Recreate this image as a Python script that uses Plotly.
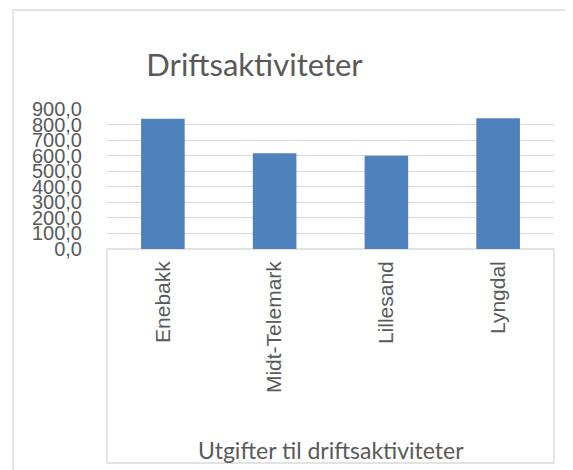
import plotly.graph_objects as go

categories = ["Enebakk", "Midt-Telemark", "Lillesand", "Lyngdal"]
values = [838, 615, 599, 841]
y_ticks = [0, 100, 200, 300, 400, 500, 600, 700, 800, 900]

OFF = 8  # default page body margin
W, H = 573 - OFF, 470 - OFF
L, R = 107 - OFF, 554 - OFF
T, B = 109 - OFF, 249 - OFF
pw, ph = R - L, B - T

def px_x(x):
    return (x - OFF - L) / pw

def px_y(y):
    return (B - (y - OFF)) / ph

fig = go.Figure(go.Bar(
    x=categories, y=values,
    marker=dict(color="#4F81BD", line=dict(width=0)),
    width=0.39,
))

fig.update_layout(
    width=W, height=H,
    margin=dict(l=L, r=W - R, t=T, b=H - B),
    paper_bgcolor="white", plot_bgcolor="white",
    separators=", ",
    showlegend=False,
    title=dict(text="Driftsaktiviteter", font=dict(family="Lato", size=31, color="#595959"),
               xref="container", yref="container", x=(254.5 - OFF) / W, y=1 - (65 - OFF) / H,
               xanchor="center", yanchor="middle"),
    xaxis=dict(showgrid=False, showline=False, ticks="", tickangle=-90,
               tickfont=dict(family="Liberation Sans", size=21, color="#595959"),
               ticklabelstandoff=7),
    yaxis=dict(range=[0, 900], tickvals=y_ticks, tickformat=".1f",
               showgrid=True, gridcolor="#D9D9D9", gridwidth=1.3,
               zeroline=False, showline=False, ticks="",
               tickfont=dict(family="Liberation Sans", size=20, color="#595959"),
               ticklabelstandoff=24),
    annotations=[dict(text="Utgifter til driftsaktiviteter", xref="paper", yref="paper",
                      x=0.5, y=px_y(450), xanchor="center", yanchor="middle",
                      showarrow=False, font=dict(family="Lato", size=23, color="#595959"))],
    shapes=[
        dict(type="rect", xref="paper", yref="paper", x0=0, x1=1, y0=px_y(463), y1=0,
             line=dict(color="#D9D9D9", width=1.3), layer="below"),
        dict(type="rect", xref="paper", yref="paper", x0=px_x(13), x1=px_x(580),
             y0=px_y(480), y1=px_y(10), line=dict(color="#D9D9D9", width=1.3), layer="below"),
    ],
)

fig.write_html("out.html")
